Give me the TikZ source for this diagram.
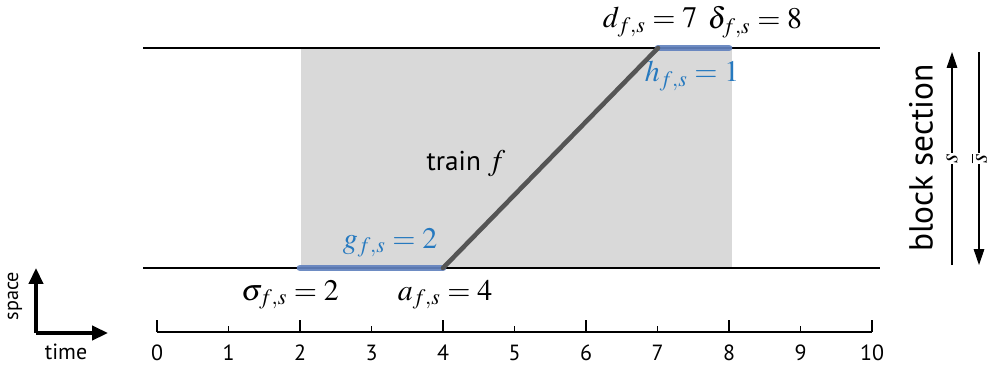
\documentclass[tikz,border=0pt]{standalone}
\usepackage{mathptmx}
\usepackage{fontspec}
\setmainfont{Liberation Serif}
\setsansfont{PT Sans}
\usetikzlibrary{arrows.meta,positioning}
\definecolor{slotgray}{RGB}{217,217,217}
\definecolor{traingray}{RGB}{85,85,85}
\definecolor{occblue}{RGB}{98,130,190}
\definecolor{labblue}{RGB}{38,121,191}

\begin{document}
\begin{tikzpicture}[
        x=0.02cm, y=-0.02cm,
        >={Triangle[length=9pt,width=6pt]},
        track/.style={line width=0.6pt},
        occ/.style={line width=3.8pt, occblue, line cap=round, opacity=0.92},
        eqlabel/.style={font=\fontsize{17}{19}\selectfont, inner sep=1pt},
        bluelabel/.style={eqlabel, text=labblue},
        ticklabel/.style={font=\sffamily\fontsize{12.5}{14}\selectfont, inner sep=1pt},
        sidelabel/.style={font=\fontsize{14}{16}\selectfont, rotate=90, fill=white, inner sep=0.3pt},
        legend/.style={line width=2pt, -{Triangle[length=9pt,width=8pt]}}
    ]
    \useasboundingbox (0,0) rectangle (989,369);
    % occupied time slot
    \fill[slotgray] (301,48) rectangle (732,268);
    \coordinate (botL) at (143,268);
    \coordinate (botR) at (880,268);
    \coordinate (topL) at (143,48);
    \coordinate (topR) at (880,48);
    \draw[track] (topL) -- (topR);
    \draw[track] (botL) -- (botR);
    % event times on the two borders
    \coordinate (sigma) at (300,268);
    \coordinate (arr) at (443,268);
    \coordinate (dep) at (658,48);
    \coordinate (delta) at (729,48);
    \draw[occ] (sigma) -- (arr);
    \draw[occ] (dep) -- (delta);
    \draw[line width=2.6pt, traingray, line cap=round] (arr) -- (dep);
    \node[font=\sffamily\fontsize{15.5}{17}\selectfont] (train) at (466,164) {train \fontsize{17}{19}\selectfont$f$};
    \node[bluelabel] (gfs) at (390,243) {$g_{f,s}=2$};
    \node[bluelabel] (hfs) at (692,76) {$h_{f,s}=1$};
    \node[eqlabel] (sfs) at (290,295) {$\sigma_{f,s}=2$};
    \node[eqlabel] (afs) at (445,295) {$a_{f,s}=4$};
    \node[eqlabel] (dfs) at (650,22) {$d_{f,s}=7$};
    \node[eqlabel] (efs) at (755,22) {$\delta_{f,s}=8$};
    % time axis
    \coordinate (ax0) at (157,332);
    \coordinate (ax10) at (872,332);
    \draw[line width=0.7pt] (ax0) -- (ax10);
    \foreach \t in {0,...,10} {
        \pgfmathsetmacro{\tx}{157+71.5*\t}
        \pgfmathsetmacro{\th}{isodd(\t) ? 326 : 320}
        \draw[line width=0.7pt] (\tx,332) -- (\tx,\th);
        \node[ticklabel] (tl\t) at (\tx,353) {\t};
    }
    % block section and directions
    \node[font=\sffamily\fontsize{19}{21}\selectfont, rotate=90] (block) at (921,158) {block section};
    \coordinate (upS) at (952,265);
    \coordinate (upE) at (952,52);
    \coordinate (dnS) at (979,52);
    \coordinate (dnE) at (979,265);
    \draw[->, line width=0.6pt] (upS) -- (upE) node[sidelabel, pos=0.5] (sdir) {$s$};
    \draw[->, line width=0.6pt] (dnS) -- (dnE) node[sidelabel, pos=0.5] (sbar) {$\overline{s}$};
    % space-time legend
    \coordinate (orig) at (36,333);
    \coordinate (spaceE) at (36,268);
    \coordinate (timeE) at (108,333);
    \draw[legend] (orig) -- (spaceE);
    \draw[legend] (orig) -- (timeE);
    \node[font=\sffamily\fontsize{11.5}{13}\selectfont, rotate=90] (space) at (15,296) {space};
    \node[font=\sffamily\fontsize{12.5}{14}\selectfont] (time) at (66,352) {time};
\end{tikzpicture}
\end{document}
